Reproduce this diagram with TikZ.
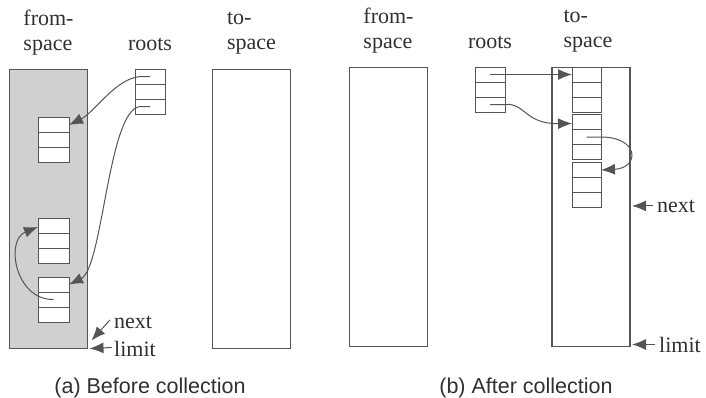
\documentclass[tikz,border=0pt]{standalone}
\usepackage{fontspec}
\setmainfont{Liberation Serif}
\newfontfamily\capfont{Liberation Sans}
\usetikzlibrary{arrows.meta,calc}
\definecolor{ln}{HTML}{555555}
\definecolor{tx}{HTML}{303030}
\definecolor{shade}{HTML}{D0D0D0}
\tikzset{
  >={Latex[length=14pt,width=11pt]},
  spacebox/.style={draw=ln, line width=1.1pt, inner sep=0pt, outer sep=0pt,
                   minimum width=78pt, minimum height=279pt},
  cellbox/.style={draw=ln, line width=0.9pt, fill=white, inner sep=0pt, outer sep=0pt,
                  minimum width=#1, minimum height=45pt},
  cellbox/.default=31pt,
  lbl/.style={text=tx, inner sep=0pt, align=left, font=\fontsize{22}{25}\selectfont},
  captxt/.style={text=tx, inner sep=0pt, font=\capfont\fontsize{21.5}{24}\selectfont},
  ptr/.style={draw=ln, line width=1pt, ->},
}
\begin{document}
\begin{tikzpicture}[x=1pt,y=-1pt]
\useasboundingbox (0,0) rectangle (706,397);
% ---------- (a) before ----------
\node[spacebox, fill=shade] (fromA) at (48.5,209) {};
\node[spacebox] (toA) at (251.5,209) {};
\node[cellbox=30pt] (rootsA) at (150,91.5) {};
\node[cellbox] (o1) at (53.5,140) {};
\node[cellbox] (o2) at (53.5,240.5) {};
\node[cellbox] (o3) at (53.5,299.5) {};
% ---------- (b) after ----------
\node[spacebox] (fromB) at (388.5,207) {};
\node[spacebox] (toB) at (591,207) {};
\node[cellbox=30pt] (rootsB) at (490,89.5) {};
\node[cellbox=29pt] (oA) at (586.5,89.5) {};
\node[cellbox=29pt] (oB) at (586.5,137) {};
\node[cellbox=29pt] (oC) at (586.5,185) {};
% cell dividers
\foreach \o in {rootsA,o1,o2,o3,rootsB,oA,oB,oC}{
  \draw[ln, line width=0.8pt] ($(\o.north west)!1/3!(\o.south west)$) -- ($(\o.north east)!1/3!(\o.south east)$);
  \draw[ln, line width=0.8pt] ($(\o.north west)!2/3!(\o.south west)$) -- ($(\o.north east)!2/3!(\o.south east)$);
}
% cell reference points
\coordinate (ra1) at ($(rootsA.north)!1/6!(rootsA.south)$);
\coordinate (ra3) at ($(rootsA.north)!5/6!(rootsA.south)$);
\coordinate (o1t) at ($(o1.north east)!1/6!(o1.south east)$);
\coordinate (o3t) at ($(o3.north east)!1/6!(o3.south east)$);
\coordinate (o3m) at (o3.center);
\coordinate (o2t) at ($(o2.north west)!0.2!(o2.south west)$);
\coordinate (rb1) at ($(rootsB.north)!1/6!(rootsB.south)$);
\coordinate (rb3) at ($(rootsB.north)!5/6!(rootsB.south)$);
\coordinate (oAt) at ($(oA.north west)!1/6!(oA.south west)$);
\coordinate (oBt) at ($(oB.north west)!1/5!(oB.south west)$);
\coordinate (oBm) at (oB.center);
\coordinate (oCt) at ($(oC.north east)!1/6!(oC.south east)$);
% labels
\node[lbl] (lfA) at (48.5,33) {from-\\space};
\node[lbl, anchor=base] (lrA) at (150,50) {roots};
\node[lbl] (ltA) at (251.5,33) {to-\\space};
\node[lbl] (lfB) at (388.5,31) {from-\\space};
\node[lbl, anchor=base] (lrB) at (490,48) {roots};
\node[lbl] (ltB) at (588,31) {to-\\space};
\node[lbl, anchor=base west] (nxA) at (114,328) {next};
\node[lbl, anchor=base west] (lmA) at (114,356) {limit};
\node[lbl, anchor=base west] (nxB) at (657,212) {next};
\node[lbl, anchor=base west] (lmB) at (659,352) {limit};
\node[captxt, anchor=base] (capA) at (150,393) {(a) Before collection};
\node[captxt, anchor=base] (capB) at (526,393) {(b) After collection};
% pointers (a)
\draw[ptr] (ra1) -- ++(-10,0) .. controls (115,79) and (95,112) .. (o1t);
\draw[ptr] (ra3) -- ++(-10,0) .. controls (108,110) and (103,268) .. (o3t);
\draw[ptr] (o3m) .. controls (15,300) and (5,240) .. (o2t);
% pointers (b)
\draw[ptr] (rb1) -- (oAt);
\draw[ptr] (rb3) -- ++(16,0) .. controls (525,103) and (525,124) .. (oBt);
\draw[ptr] (oBm) -- ++(12,0) .. controls (640,136) and (640,168) .. (oCt);
% next / limit arrows
\coordinate (nA1) at ($(nxA.west)+(-4,-2)$);
\coordinate (nA2) at ($(fromA.south east)+(4,-8)$);
\coordinate (lA1) at ($(lmA.west)+(-2,-1)$);
\coordinate (lA2) at ($(fromA.south east)+(2,0)$);
\coordinate (nB1) at ($(nxB.west)+(-4,0)$);
\coordinate (nB2) at (toB.east |- nB1);
\coordinate (lB1) at ($(lmB.west)+(-4,0)$);
\coordinate (lB2) at (toB.east |- lB1);
\draw[ptr] (nA1) -- (nA2);
\draw[ptr] (lA1) -- (lA2);
\draw[ptr] (nB1) -- ([xshift=2pt]nB2);
\draw[ptr] (lB1) -- ([xshift=2pt]lB2);
\end{tikzpicture}
\end{document}
